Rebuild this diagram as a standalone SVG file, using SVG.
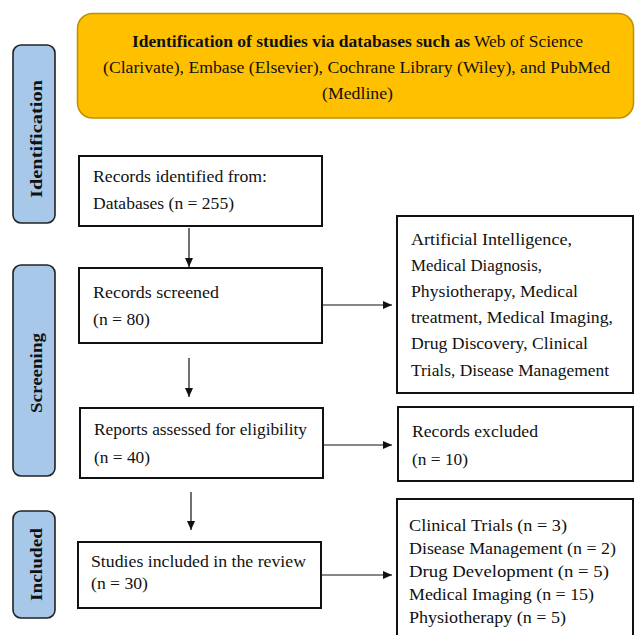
<svg xmlns="http://www.w3.org/2000/svg" width="635" height="635" viewBox="0 0 635 635">
<style>
  text { font-family: "Liberation Serif", "Times New Roman", serif; fill: #111; }
  .t { font-size: 17.5px; }
  .y { font-size: 17.5px; }
  .b { font-weight: bold; }
  .side rect { fill: #A8C8EA; stroke: #222; stroke-width: 1.6; }
  .side text { font-size: 17px; font-weight: bold; text-anchor: middle; }
  .box rect { fill: #fff; stroke: #111; stroke-width: 2; }
  .conn line { stroke: #111; stroke-width: 1.2; fill: none; }
</style>
<defs>
  <marker id="ah" markerWidth="10" markerHeight="8" refX="9" refY="4" orient="auto" markerUnits="userSpaceOnUse">
    <path d="M0,0 L9,4 L0,8 Z" fill="#111"/>
  </marker>
</defs>
<rect width="635" height="635" fill="#fff"/>

<g id="header">
  <rect x="77.5" y="13.5" width="556" height="104.5" rx="15" ry="15" fill="#FFC000" stroke="#BF9000" stroke-width="1.5"/>
  <text class="y b" x="132" y="47" textLength="338" lengthAdjust="spacingAndGlyphs">Identification of studies via databases such as</text>
  <text class="y" x="474" y="47" textLength="109" lengthAdjust="spacingAndGlyphs">Web of Science</text>
  <text class="y" x="103" y="73" textLength="507" lengthAdjust="spacingAndGlyphs">(Clarivate), Embase (Elsevier), Cochrane Library (Wiley), and PubMed</text>
  <text class="y" x="322" y="99" textLength="71" lengthAdjust="spacingAndGlyphs">(Medline)</text>
</g>

<g id="label-identification" class="side">
  <rect x="13" y="45" width="42" height="178" rx="8" ry="8"/>
  <text transform="translate(42,139) rotate(-90)" textLength="118" lengthAdjust="spacingAndGlyphs">Identification</text>
</g>
<g id="label-screening" class="side">
  <rect x="13" y="265" width="42" height="211" rx="8" ry="8"/>
  <text transform="translate(42,373) rotate(-90)" textLength="80" lengthAdjust="spacingAndGlyphs">Screening</text>
</g>
<g id="label-included" class="side">
  <rect x="13" y="511" width="42" height="107" rx="8" ry="8"/>
  <text transform="translate(42,564.5) rotate(-90)" textLength="73" lengthAdjust="spacingAndGlyphs">Included</text>
</g>

<g id="records-identified" class="box">
  <rect x="79" y="156" width="243" height="70"/>
  <text class="t" x="93" y="182" textLength="174" lengthAdjust="spacingAndGlyphs">Records identified from:</text>
  <text class="t" x="93" y="209" textLength="141" lengthAdjust="spacingAndGlyphs">Databases (n = 255)</text>
</g>

<g id="records-screened" class="box">
  <rect x="79" y="268" width="243" height="75"/>
  <text class="t" x="93" y="298" textLength="126" lengthAdjust="spacingAndGlyphs">Records screened</text>
  <text class="t" x="93" y="325" textLength="57" lengthAdjust="spacingAndGlyphs">(n = 80)</text>
</g>

<g id="topics" class="box">
  <rect x="397" y="216" width="236" height="177"/>
  <text class="t" x="411" y="245" textLength="161" lengthAdjust="spacingAndGlyphs">Artificial Intelligence,</text>
  <text class="t" x="411" y="271" textLength="131" lengthAdjust="spacingAndGlyphs">Medical Diagnosis,</text>
  <text class="t" x="411" y="297" textLength="167" lengthAdjust="spacingAndGlyphs">Physiotherapy, Medical</text>
  <text class="t" x="411" y="323" textLength="202" lengthAdjust="spacingAndGlyphs">treatment, Medical Imaging,</text>
  <text class="t" x="411" y="349" textLength="177" lengthAdjust="spacingAndGlyphs">Drug Discovery, Clinical</text>
  <text class="t" x="411" y="376" textLength="198" lengthAdjust="spacingAndGlyphs">Trials, Disease Management</text>
</g>

<g id="reports-assessed" class="box">
  <rect x="80" y="408" width="243" height="70"/>
  <text class="t" x="94" y="435" textLength="213" lengthAdjust="spacingAndGlyphs">Reports assessed for eligibility</text>
  <text class="t" x="94" y="463" textLength="56" lengthAdjust="spacingAndGlyphs">(n = 40)</text>
</g>

<g id="records-excluded" class="box">
  <rect x="398" y="407" width="235" height="74"/>
  <text class="t" x="412" y="437" textLength="126" lengthAdjust="spacingAndGlyphs">Records excluded</text>
  <text class="t" x="412" y="465" textLength="56" lengthAdjust="spacingAndGlyphs">(n = 10)</text>
</g>

<g id="studies-included" class="box">
  <rect x="78" y="542" width="243" height="66"/>
  <text class="t" x="91" y="567" textLength="215" lengthAdjust="spacingAndGlyphs">Studies included in the review</text>
  <text class="t" x="91" y="589" textLength="57" lengthAdjust="spacingAndGlyphs">(n = 30)</text>
</g>

<g id="categories" class="box">
  <rect x="397" y="499" width="236" height="150"/>
  <text class="t" x="409" y="531" textLength="158" lengthAdjust="spacingAndGlyphs">Clinical Trials (n = 3)</text>
  <text class="t" x="409" y="554" textLength="207" lengthAdjust="spacingAndGlyphs">Disease Management (n = 2)</text>
  <text class="t" x="409" y="577" textLength="200" lengthAdjust="spacingAndGlyphs">Drug Development (n = 5)</text>
  <text class="t" x="409" y="600" textLength="185" lengthAdjust="spacingAndGlyphs">Medical Imaging (n = 15)</text>
  <text class="t" x="409" y="623" textLength="157" lengthAdjust="spacingAndGlyphs">Physiotherapy (n = 5)</text>
</g>

<g id="connectors" class="conn">
  <line x1="189" y1="228" x2="189" y2="267" marker-end="url(#ah)"/>
  <line x1="189" y1="358" x2="189" y2="397" marker-end="url(#ah)"/>
  <line x1="191" y1="492" x2="191" y2="530" marker-end="url(#ah)"/>
  <line x1="322" y1="305" x2="392" y2="305" marker-end="url(#ah)"/>
  <line x1="323" y1="445" x2="392" y2="445" marker-end="url(#ah)"/>
  <line x1="321" y1="575" x2="392" y2="575" marker-end="url(#ah)"/>
</g>
</svg>
